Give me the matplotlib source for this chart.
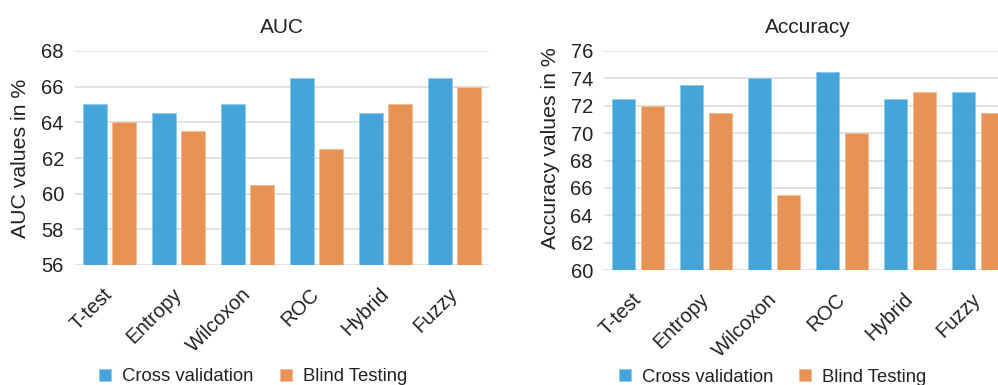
import matplotlib.pyplot as plt
import numpy as np

plt.rcParams['font.family'] = ['Liberation Sans', 'DejaVu Sans']

methods = ['T-test', 'Entropy', 'Wilcoxon', 'ROC', 'Hybrid', 'Fuzzy']
auc_cv = [65, 64.5, 65, 66.5, 64.5, 66.5]
auc_bt = [64, 63.5, 60.5, 62.5, 65, 66]
acc_cv = [72.5, 73.5, 74, 74.5, 72.5, 73]
acc_bt = [72, 71.5, 65.5, 70, 73, 71.5]

blue = '#45a5db'
orange = '#e89253'
grid_col = '#dcdce2'
txt = '#222222'

fig = plt.figure(figsize=(9.98, 3.85), dpi=100)
ax1 = fig.add_axes([75 / 998, 1 - 265 / 385, 414 / 998, 214 / 385])
ax2 = fig.add_axes([604 / 998, 1 - 270 / 385, 408 / 998, 219 / 385])


def draw(ax, cv, bt, ylim, step, title, ylabel, lab_xy, leg_xy):
    x = np.arange(len(methods))
    w = 0.335
    ax.bar(x - 0.21, np.array(cv) - ylim[0], w, bottom=ylim[0], color=blue,
           edgecolor='#8ccbec', linewidth=0.6, label='Cross validation', zorder=3)
    ax.bar(x + 0.21, np.array(bt) - ylim[0], w, bottom=ylim[0], color=orange,
           edgecolor='#f2bd95', linewidth=0.6, label='Blind Testing', zorder=3)
    ax.set_xlim(-0.5, len(methods) - 0.5)
    ax.set_ylim(*ylim)
    ax.set_yticks(np.arange(ylim[0], ylim[1] + 0.1, step))
    ax.yaxis.grid(True, color=grid_col, linewidth=1.2, zorder=0)
    ax.set_axisbelow(True)
    for s in ax.spines.values():
        s.set_visible(False)
    ax.tick_params(axis='both', length=0, labelsize=14.5, colors=txt)
    ax.tick_params(axis='y', pad=8)
    ax.set_xticks(x)
    ax.set_xticklabels(methods, rotation=45, ha='right', va='center',
                       rotation_mode='anchor')
    ax.tick_params(axis='x', pad=19)
    ax.set_title(title, fontsize=15, color=txt, pad=13)
    ax.set_ylabel(ylabel, fontsize=15.3, color=txt)
    ax.yaxis.set_label_coords(*lab_xy)
    ax.legend(loc='center', bbox_to_anchor=leg_xy, ncol=2, frameon=False,
              fontsize=13.3, handlelength=0.65, handleheight=0.65,
              handletextpad=0.6, columnspacing=1.4, labelcolor=txt)


draw(ax1, auc_cv, auc_bt, (56, 68), 2, 'AUC', 'AUC values in %',
     (-0.109, 0.5), (0.43, -0.523))
draw(ax2, acc_cv, acc_bt, (60, 76), 2, 'Accuracy', 'Accuracy values in %',
     (-0.108, 0.557), (0.414, -0.489))

fig.savefig('out.png', dpi=100)
